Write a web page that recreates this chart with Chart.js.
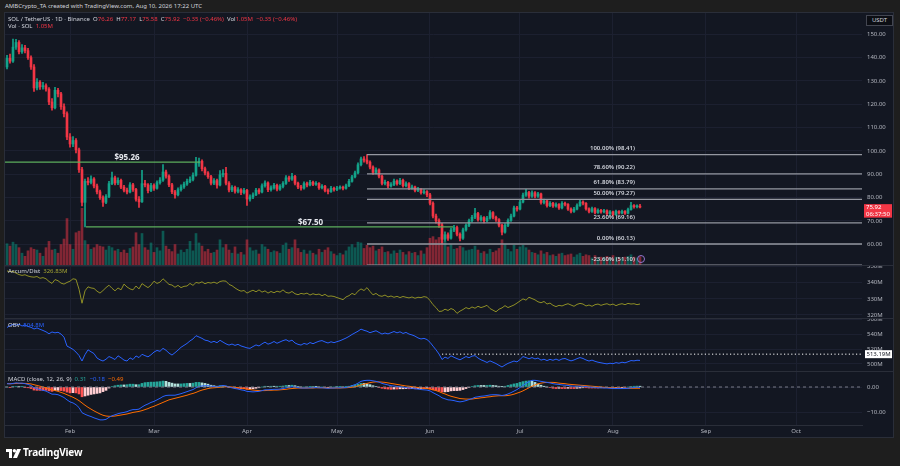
<!DOCTYPE html>
<html>
<head>
<meta charset="utf-8">
<title>SOL / TetherUS 1D</title>
<script src="https://cdn.jsdelivr.net/npm/chart.js@4.4.1/dist/chart.umd.min.js"></script>
<style>
  html, body { margin: 0; padding: 0; }
  body { width: 900px; height: 466px; background: #1e1e1e; position: relative; overflow: hidden; font-family: 'Noto Sans', sans-serif; color: #d1d4dc; }
  #panel { position: absolute; left: 4px; top: 12px; width: 890px; height: 426px; background: #131722; border: 1px solid #2a2e39; box-sizing: border-box; }
  canvas { position: absolute; left: 5px; }
  .sep { position: absolute; left: 5px; width: 888px; height: 1px; background: #2a2e39; }
  .txt { position: absolute; white-space: nowrap; font-size: 6px; line-height: 8px; }
  .dn { color: #f23645; }
  #usdt { position: absolute; left: 866px; top: 15px; width: 27px; height: 11px; box-sizing: border-box; border: 1px solid #434651; background: #0c0e14; font-size: 6px; line-height: 9px; text-align: center; color: #d1d4dc; }
  #alert { position: absolute; left: 637px; top: 255px; width: 8px; height: 8px; box-sizing: border-box; border: 1px solid #9575cd; border-radius: 50%; }
  #logo { position: absolute; left: 6px; top: 449px; }
  #brand { position: absolute; left: 23px; top: 445px; font-size: 10px; font-weight: 700; color: #ffffff; letter-spacing: -0.2px; }
</style>
</head>
<body>
<div id="panel"></div>
<canvas id="cMain" width="888" height="252" style="top:13px"></canvas>
<div class="sep" style="top:265px"></div>
<canvas id="cAd" width="888" height="52" style="top:266px"></canvas>
<div class="sep" style="top:318px"></div>
<canvas id="cObv" width="888" height="52" style="top:319px"></canvas>
<div class="sep" style="top:371px"></div>
<canvas id="cMacd" width="888" height="65" style="top:372px"></canvas>

<div class="txt" style="left:5px;top:2px">AMBCrypto_TA created with TradingView.com, Aug 10, 2026 17:22 UTC</div>
<div class="txt" style="left:8px;top:15px">SOL / TetherUS · 1D · Binance&nbsp; O<span class="dn">76.26</span>&nbsp; H<span class="dn">77.17</span>&nbsp; L<span class="dn">75.58</span>&nbsp; C<span class="dn">75.92</span>&nbsp; <span class="dn">−0.35 (−0.46%)</span>&nbsp; Vol<span class="dn">1.05M</span>&nbsp; <span class="dn">−0.35 (−0.46%)</span></div>
<div class="txt" style="left:8px;top:22px">Vol · SOL&nbsp; <span class="dn">1.05M</span></div>
<div class="txt" style="left:8px;top:267px">Accum/Dist&nbsp; <span style="color:#a3a332">326.83M</span></div>
<div class="txt" style="left:8px;top:321px">OBV&nbsp; <span style="color:#2962ff">504.8M</span></div>
<div class="txt" style="left:8px;top:375px">MACD (close, 12, 26, 9)&nbsp; <span style="color:#26a69a">0.31</span>&nbsp; <span style="color:#2962ff">−0.18</span>&nbsp; <span style="color:#ff6d00">−0.49</span></div>
<div id="usdt">USDT</div>
<div id="alert"></div>
<svg id="logo" width="15" height="9" viewBox="0 0 15 9"><path d="M0 0h6v9H3V3H0z" fill="#fff"/><circle cx="8.4" cy="1.7" r="1.7" fill="#fff"/><path d="M11 0h4l-4 9H7z" fill="#fff"/></svg>
<div id="brand">TradingView</div>

<script>
// daily candles, Jan 11 2026 (index 0) .. Aug 10 2026 (index 211)
const firstOpen = 136;
const closes = [
  139.7, 138.5, 144.5, 146.5, 142.5, 144.2, 143, 140, 136, 127,
  129.5, 127.5, 128, 126.5, 121, 118.5, 126, 124.5, 119, 116,
  106, 103, 104.5, 100.5, 92, 78, 87, 86.5, 88, 85,
  82.5, 80, 78, 80.5, 86, 88.5, 86.3, 87.4, 84.5, 83.2,
  82.4, 85.5, 83.5, 79.3, 78.2, 86, 85.5, 83, 85.2, 84,
  86.4, 87.5, 91, 89.2, 85.5, 82.5, 81.2, 83.4, 84.6, 85.8,
  87, 87.8, 89.6, 94.8, 95.6, 92.4, 90.6, 89, 86.2, 87.3,
  85.4, 89.8, 90.4, 86.2, 83.3, 84.4, 82.7, 83.4, 82.2, 83.1,
  79.4, 80.3, 81.2, 83.2, 82.4, 85.1, 86.3, 83.4, 84.2, 85.3,
  83.6, 84.8, 86.1, 88.5, 87.9, 89.1, 86.2, 84.6, 84.1, 86,
  85.4, 86.6, 85.7, 86.1, 84.2, 84.9, 83.1, 82.6, 84, 83.5,
  84.1, 84.4, 84, 85.1, 87, 88.9, 90.6, 94.1, 96.6, 96.1,
  95.2, 93.1, 90.8, 91.9, 89.2, 86.1, 86.6, 85, 85.6, 87.1,
  86, 87.4, 85.1, 86, 84.1, 84.6, 83.1, 83.6, 82.1, 82.6,
  81.2, 77.6, 72.1, 70.2, 68.3, 62.2, 64.1, 62.6, 66.1, 67.2,
  64.3, 62.6, 66.2, 68.1, 70.1, 71.6, 73.2, 70.6, 71.5, 70.1,
  71.2, 73.6, 71.6, 70.6, 68.2, 65.2, 68.1, 70.2, 72.1, 75.6,
  75.1, 78.1, 81.1, 82.2, 80.6, 82.1, 80.6, 81.6, 77.9, 78.6,
  76.6, 77.6, 76.4, 77.1, 75.6, 77.6, 77.1, 75.1, 74.1, 75.1,
  76.6, 78.1, 77.6, 75.2, 74.1, 75.3, 73.6, 74.6, 73.9, 74.4,
  73.1, 73.9, 72.7, 74.1, 73.4, 74.1, 73.3, 74.9, 76.6, 76.1,
  76.26, 75.92
];
const highs = [
  141, 141.5, 148, 147.8, 147.3, 145.6, 145.3, 144, 140.8, 137,
  131, 130.2, 129.4, 128.8, 127.2, 122.4, 127.3, 126.8, 125.1, 120.2,
  116.8, 107.4, 106.2, 105.3, 101.2, 93, 88, 88.6, 89.3, 88.6,
  85.8, 83.2, 80.8, 81.3, 87, 91, 89.2, 88.5, 87.9, 85.3,
  84.1, 86.4, 86.1, 84, 80.4, 91.7, 87.4, 86, 86.1, 85.9,
  87.2, 88.6, 94.2, 91.8, 89.8, 86.1, 83.1, 84.2, 85.5, 86.7,
  87.9, 88.9, 90.6, 97.3, 97, 96.2, 93.1, 91.2, 89.6, 88.2,
  87.9, 91.6, 92, 93, 86.9, 85.2, 85, 84.3, 83.9, 84,
  83.6, 81.2, 82.1, 84, 83.9, 85.9, 87.2, 86.8, 85.1, 86.1,
  85.8, 85.6, 86.9, 89.4, 89.2, 90.4, 89.6, 86.7, 85.3, 86.8,
  86.7, 87.4, 87.1, 86.9, 86.5, 85.6, 85.3, 83.8, 84.8, 84.5,
  84.8, 85.1, 85, 85.8, 87.8, 89.6, 91.4, 94.9, 97.4, 97.6,
  98.41, 95.8, 93.6, 92.8, 92.3, 89.7, 87.5, 87, 86.4, 87.9,
  87.6, 88.3, 87.9, 86.8, 86.4, 85.4, 85, 84.4, 84, 83.4,
  83, 81.8, 78.2, 73, 70.9, 69, 65.3, 64.9, 66.9, 68.1,
  67.8, 64.9, 66.9, 68.8, 70.8, 72.4, 75.4, 73.7, 72.3, 71.9,
  72, 74.4, 74, 72.1, 71, 68.7, 68.9, 70.9, 72.9, 76.4,
  76.3, 78.9, 81.9, 83.6, 82.7, 82.9, 82.6, 82.3, 82, 79.4,
  79, 78.3, 78, 77.8, 77.5, 78.3, 78.1, 77.5, 75.6, 75.8,
  77.3, 78.8, 78.6, 77.9, 75.6, 75.9, 75.7, 75.2, 75, 75,
  74.8, 74.5, 74.2, 74.7, 74.5, 74.7, 74.4, 75.5, 78, 77,
  76.9, 77.17
];
const lows = [
  135.2, 137.6, 138, 143.5, 141.6, 141.8, 142, 139.2, 135, 125.5,
  126.2, 126.4, 126.5, 125.6, 119.8, 117.5, 118, 123.2, 117.8, 114.6,
  104.8, 101.6, 101.8, 99.2, 90.8, 76.5, 67.5, 85.4, 85.9, 84.2,
  81.6, 79.2, 76.2, 77.4, 80, 85.6, 85.4, 85.6, 83.8, 82.4,
  81.6, 82, 82.7, 78.5, 75.8, 77.9, 84.6, 82, 82.6, 83.1,
  83.6, 85.8, 87, 88.3, 84.7, 81.7, 79.8, 80.7, 82.8, 84,
  85.2, 86.4, 87.2, 89.2, 93.4, 91.5, 89.7, 88.2, 85.4, 85.6,
  84.1, 85, 88.9, 85.5, 82.5, 82.6, 81.9, 82, 81.3, 81.6,
  76.7, 78.5, 79.6, 80.8, 81.6, 82, 84.5, 82.6, 82.8, 83.6,
  82.9, 83.1, 84.2, 85.7, 87, 87.4, 85.5, 83.8, 83.2, 83.6,
  84.6, 85, 85.1, 85.2, 83.5, 83.7, 82.4, 81.6, 82.2, 82.8,
  83, 83.6, 83.3, 83.6, 84.7, 86.6, 88.4, 90.2, 93.6, 95.2,
  94.4, 92.3, 90, 90.2, 88.5, 85.4, 85.5, 84.2, 84.5, 85.1,
  85.3, 85.6, 84.5, 84.6, 83.4, 83.6, 82.4, 82.6, 81.5, 81.6,
  80.4, 76.9, 71.3, 69.1, 67.2, 60.13, 61.3, 61.7, 62.2, 65.4,
  63.6, 61.5, 62.1, 65.6, 67.6, 69.5, 71, 69.9, 69.9, 69.2,
  69.6, 70.8, 70.9, 69.8, 67.5, 64, 64.8, 67.6, 69.8, 71.7,
  74.2, 74.7, 77.7, 80.5, 79.8, 80.1, 79.9, 80.1, 77.2, 77.3,
  75.9, 76.1, 75.8, 75.9, 74.9, 75.2, 76.5, 74.5, 73.5, 73.7,
  74.7, 76.2, 76.9, 74.6, 73.4, 73.7, 73, 73.2, 73.3, 73.5,
  72.5, 72.7, 72.1, 72.4, 72.9, 73, 72.8, 73, 74.6, 75.5,
  75.6, 75.58
];
// volume, millions of SOL
const volumes = [
  2.7, 2.4, 2.9, 2.6, 2.2, 1.5, 1.1, 1.8, 2.2, 2.0,
  1.9, 1.5, 1.1, 2.2, 3.0, 1.9, 2.0, 1.5, 2.6, 3.3,
  5.9, 2.6, 2.0, 4.1, 4.3, 7.2, 3.1, 2.6, 2.0, 2.2,
  2.6, 2.4, 2.3, 1.9, 2.4, 2.2, 1.8, 2.0, 1.6, 1.9,
  1.5, 2.1, 2.3, 4.1, 2.6, 4.0, 2.2, 1.9, 2.8, 1.6,
  2.2, 1.8, 4.3, 2.4, 2.0, 1.7, 2.6, 1.4, 1.9, 1.6,
  2.0, 3.0, 1.8, 4.0, 2.8, 2.4, 1.7, 2.0, 1.5, 1.6,
  1.9, 3.2, 2.2, 2.6, 1.9, 1.5, 2.3, 1.4, 1.6, 1.3,
  3.2, 2.2, 1.8, 1.9, 1.4, 2.6, 2.3, 2.0, 1.6, 1.8,
  1.7, 1.5, 2.5, 2.8, 2.0, 2.2, 3.2, 2.1, 1.6, 1.9,
  1.4, 1.8, 1.5, 1.3, 2.0, 1.6, 1.9, 2.2, 1.7, 1.4,
  1.2, 1.5, 1.3, 1.8, 2.3, 2.6, 2.2, 2.9, 2.8, 2.1,
  2.5, 2.2, 2.4, 1.8, 2.0, 2.3, 1.6, 1.7, 1.4, 1.8,
  1.5, 1.9, 1.6, 1.3, 1.7, 1.5, 1.6, 1.2, 1.8, 1.4,
  2.2, 3.4, 3.6, 3.2, 3.5, 3.9, 3.0, 2.3, 2.6, 2.0,
  2.1, 2.4, 2.2, 1.8, 1.9, 2.0, 2.4, 1.9, 1.5, 1.7,
  1.4, 2.0, 1.6, 1.8, 2.1, 3.2, 2.6, 2.0, 1.7, 2.5,
  2.0, 2.3, 2.5, 2.2, 1.9, 1.6, 1.5, 1.3, 1.8, 1.4,
  1.6, 1.2, 1.3, 1.1, 1.4, 1.5, 1.2, 1.3, 1.4, 1.0,
  1.3, 1.5, 1.1, 1.3, 1.2, 0.9, 1.2, 0.8, 1.0, 0.9,
  1.1, 0.8, 1.2, 1.0, 0.9, 0.8, 1.0, 1.1, 1.3, 1.0,
  0.9, 1.05
];
// Accumulation/Distribution, millions
const accDist = [
  347.4, 346.8, 347.2, 346.0, 345.1, 344.6, 345.0, 344.2, 343.7, 343.5,
  343.9, 342.8, 343.2, 342.5, 340.8, 339.6, 342.0, 341.3, 339.8, 339.2,
  340.2, 341.0, 342.5, 342.1, 336.0, 327.3, 335.0, 337.5, 336.8, 336.5,
  334.8, 333.6, 335.2, 337.0, 338.5, 336.6, 335.0, 336.8, 335.6, 339.2,
  337.4, 336.2, 335.6, 338.0, 336.2, 339.5, 338.2, 337.0, 338.6, 341.0,
  339.6, 340.4, 342.5, 340.8, 339.0, 338.6, 337.2, 338.4, 337.0, 337.8,
  338.0, 339.6, 338.4, 340.2, 339.8, 340.6, 339.4, 340.2, 339.8, 340.4,
  339.6, 340.8, 341.2, 341.0, 339.0, 338.2, 336.8, 335.6, 334.8, 335.2,
  333.6, 334.6, 335.4, 334.4, 335.6, 334.2, 335.0, 333.6, 334.6, 333.8,
  334.8, 334.2, 335.6, 334.0, 333.6, 334.6, 333.2, 332.6, 333.4, 333.0,
  333.6, 332.4, 333.2, 332.6, 333.0, 332.0, 332.8, 331.6, 331.8, 331.5,
  330.8, 330.2, 329.5, 331.2, 332.0, 333.4, 332.6, 334.8, 336.2, 335.2,
  337.0, 334.6, 332.5, 333.4, 332.0, 331.6, 332.4, 331.2, 331.8, 331.0,
  331.6, 330.8, 331.5, 331.0, 330.6, 331.2, 330.4, 331.0, 330.8, 331.4,
  331.0, 329.0, 326.4, 324.6, 322.2, 322.4, 323.6, 322.8, 324.0, 323.2,
  321.0, 322.4, 323.4, 324.6, 323.8, 325.0, 324.2, 325.4, 324.6, 325.2,
  326.0, 324.0, 323.0, 322.0, 323.6, 324.4, 325.8, 324.6, 325.4, 326.2,
  327.4, 328.7, 330.0, 329.2, 331.0, 330.2, 329.4, 328.2, 327.6, 328.4,
  326.8, 327.4, 326.0, 325.2, 326.0, 325.6, 326.4, 327.0, 326.2, 325.4,
  326.6, 327.2, 326.8, 325.6, 326.2, 325.4, 326.4, 326.8, 326.0, 326.6,
  327.0, 326.2, 326.8, 325.8, 326.6, 327.0, 326.4, 327.2, 326.8, 327.0,
  326.4, 326.83
];
// On Balance Volume, millions
const obv = [
  549.0, 551.5, 553.2, 552.0, 553.4, 551.0, 552.2, 550.4, 549.2, 547.0,
  548.4, 546.6, 545.0, 543.2, 540.6, 543.0, 541.8, 542.6, 540.2, 536.0,
  524.0, 522.0, 519.6, 516.0, 511.4, 504.0, 512.6, 519.0, 516.4, 514.0,
  508.0, 505.6, 504.0, 506.4, 510.0, 508.2, 506.0, 511.0, 508.4, 505.2,
  504.0, 508.2, 506.0, 510.8, 508.6, 513.0, 511.2, 509.6, 512.4, 516.0,
  518.2, 517.0, 521.0, 518.4, 514.6, 512.0, 515.2, 518.6, 522.4, 525.0,
  527.6, 531.0, 533.6, 538.0, 536.2, 534.4, 532.0, 531.2, 529.0, 530.4,
  528.6, 531.8, 529.4, 527.0, 525.4, 526.8, 525.0, 526.4, 524.2, 523.0,
  521.6, 521.0, 523.4, 525.6, 524.2, 527.0, 529.4, 526.6, 528.0, 530.2,
  527.8, 529.6, 531.4, 532.6, 530.4, 532.0, 528.2, 526.4, 525.4, 527.6,
  526.4, 528.8, 527.2, 529.0, 530.6, 531.4, 529.6, 528.2, 529.8, 528.6,
  530.0, 531.2, 533.0, 534.8, 537.0, 539.6, 541.8, 544.0, 546.8, 545.2,
  544.0, 542.0, 543.4, 544.6, 542.4, 540.2, 541.6, 540.4, 542.0, 543.6,
  541.8, 543.2, 541.0, 542.4, 540.2, 539.0, 537.4, 535.0, 533.6, 534.4,
  532.8, 529.2, 524.0, 519.0, 513.4, 506.0, 509.2, 507.4, 511.0, 509.0,
  507.2, 505.6, 507.8, 510.0, 508.4, 510.6, 511.2, 508.0, 505.6, 504.0,
  502.0, 504.2, 502.4, 500.6, 498.2, 496.0, 498.6, 500.8, 502.4, 504.0,
  502.8, 506.0, 510.0, 508.6, 507.0, 508.6, 506.8, 508.0, 505.2, 506.4,
  504.6, 506.2, 505.0, 506.6, 504.8, 506.8, 507.4, 505.6, 504.2, 505.4,
  507.2, 508.6, 507.4, 505.4, 504.0, 505.2, 503.6, 502.4, 501.6, 500.8,
  500.2, 501.0, 500.4, 501.8, 501.0, 502.4, 501.6, 503.0, 504.6, 504.2,
  505.0, 504.8
];
// MACD (12, 26, 9)
const macdLine = [
  1.3, 1.2, 1.4, 1.6, 1.5, 1.5, 1.3, 1.0, 0.6, -0.3,
  -0.7, -1.0, -1.3, -1.6, -2.2, -2.8, -2.8, -3.0, -3.5, -4.1,
  -5.0, -5.8, -6.2, -6.9, -8.0, -10.0, -10.6, -11.1, -11.5, -12.0,
  -12.4, -12.8, -12.8, -12.6, -11.8, -11.2, -10.8, -10.4, -10.1, -9.9,
  -9.6, -9.1, -8.8, -8.8, -8.6, -7.8, -7.1, -6.6, -6.0, -5.6,
  -5.0, -4.4, -3.7, -3.3, -3.2, -3.2, -3.2, -2.9, -2.6, -2.2,
  -1.8, -1.4, -1.0, -0.3, 0.2, 0.4, 0.5, 0.5, 0.3, 0.2,
  0.1, 0.4, 0.6, 0.4, 0.0, -0.3, -0.6, -0.8, -1.1, -1.3,
  -1.7, -1.8, -1.9, -1.8, -1.7, -1.4, -1.1, -1.1, -1.0, -0.9,
  -0.9, -0.8, -0.6, -0.3, -0.1, 0.1, 0.0, -0.2, -0.4, -0.4,
  -0.4, -0.3, -0.3, -0.2, -0.3, -0.3, -0.4, -0.5, -0.4, -0.4,
  -0.3, -0.3, -0.3, -0.2, 0.1, 0.5, 0.9, 1.5, 2.2, 2.5,
  2.6, 2.6, 2.4, 2.2, 1.9, 1.4, 1.1, 0.8, 0.5, 0.4,
  0.2, 0.1, -0.1, -0.2, -0.4, -0.5, -0.7, -0.8, -1.0, -1.1,
  -1.2, -1.5, -2.2, -2.8, -3.4, -4.2, -4.6, -5.0, -5.1, -5.3,
  -5.6, -5.8, -5.6, -5.3, -4.9, -4.5, -4.0, -3.8, -3.6, -3.5,
  -3.3, -3.1, -3.0, -3.0, -3.1, -3.3, -3.1, -2.7, -2.2, -1.6,
  -1.0, -0.2, 0.6, 1.4, 2.1, 2.6, 2.6, 2.4, 2.2, 2.0,
  1.8, 1.6, 1.3, 1.1, 1.0, 0.8, 0.7, 0.6, 0.4, 0.3,
  0.3, 0.3, 0.3, 0.2, 0.0, -0.1, -0.2, -0.3, -0.3, -0.4,
  -0.4, -0.5, -0.6, -0.6, -0.6, -0.6, -0.6, -0.5, -0.3, -0.2,
  -0.15, -0.18
];
const signalLine = [
  1.3, 1.3, 1.3, 1.4, 1.4, 1.4, 1.4, 1.3, 1.2, 0.9,
  0.6, 0.3, 0.0, -0.3, -0.7, -1.1, -1.4, -1.7, -2.1, -2.5,
  -3.0, -3.5, -4.0, -4.6, -5.3, -6.2, -7.1, -7.9, -8.6, -9.3,
  -9.9, -10.5, -11.0, -11.3, -11.4, -11.4, -11.3, -11.1, -10.9, -10.7,
  -10.5, -10.2, -9.9, -9.7, -9.5, -9.2, -8.8, -8.4, -7.9, -7.5,
  -7.0, -6.5, -6.0, -5.5, -5.0, -4.7, -4.4, -4.1, -3.8, -3.5,
  -3.2, -2.8, -2.5, -2.1, -1.6, -1.2, -0.9, -0.6, -0.4, -0.3,
  -0.2, -0.1, 0.0, 0.1, 0.1, 0.0, -0.1, -0.3, -0.4, -0.6,
  -0.8, -1.0, -1.2, -1.3, -1.4, -1.4, -1.4, -1.3, -1.3, -1.2,
  -1.2, -1.1, -1.0, -0.9, -0.7, -0.6, -0.5, -0.4, -0.4, -0.4,
  -0.4, -0.4, -0.4, -0.3, -0.3, -0.3, -0.3, -0.4, -0.4, -0.4,
  -0.4, -0.4, -0.3, -0.3, -0.2, -0.1, 0.1, 0.4, 0.8, 1.1,
  1.4, 1.7, 1.9, 2.0, 2.0, 1.9, 1.8, 1.6, 1.4, 1.2,
  1.0, 0.8, 0.6, 0.4, 0.3, 0.1, 0.0, -0.2, -0.4, -0.5,
  -0.6, -0.8, -1.1, -1.4, -1.8, -2.3, -2.7, -3.2, -3.6, -3.9,
  -4.2, -4.5, -4.6, -4.7, -4.7, -4.7, -4.5, -4.4, -4.2, -4.1,
  -3.9, -3.8, -3.6, -3.5, -3.4, -3.4, -3.4, -3.3, -3.1, -2.8,
  -2.4, -2.0, -1.5, -0.9, -0.3, 0.3, 0.8, 1.2, 1.5, 1.7,
  1.8, 1.8, 1.8, 1.7, 1.5, 1.4, 1.3, 1.1, 1.0, 0.9,
  0.8, 0.7, 0.6, 0.5, 0.4, 0.3, 0.2, 0.1, 0.0, -0.1,
  -0.2, -0.3, -0.3, -0.4, -0.4, -0.5, -0.5, -0.5, -0.5, -0.5,
  -0.49, -0.49
];
const monthTicks = [21, 49, 80, 110, 141, 171, 202, 233, 263];
const monthLabels = ['Feb', 'Mar', 'Apr', 'May', 'Jun', 'Jul', 'Aug', 'Sep', 'Oct'];
const priceTicks = [60, 70, 80, 90, 100, 110, 120, 130, 140, 150];
const adTicks = [320, 330, 340, 350];
const obvTicks = [500, 520, 540, 560];
const macdTicks = [-10, 0];
const fibLevels = [98.41, 90.22, 83.79, 79.27, 69.16, 60.13, 51.10];
const fibNames = ['100.00%', '78.60%', '61.80%', '50.00%', '23.60%', '0.00%', '-23.60%'];
const supportLevels = [95.26, 67.50];
const obvMark = 513.19;

// drawing anchors (day index)
const FIB_FROM = 120, FIB_LABEL_AT = 209.3;
const SUPPORT_FROM = [-1, 26.3], SUPPORT_TO = [64.3, 148.7], SUPPORT_LABEL_AT = [40, 101.2];
const OBV_MARK_FROM = 145;

const FONT = "'Noto Sans', sans-serif";
const GRID = '#1c2030';
const TXT = '#b2b5be';
const UP = '#13a38a', DOWN = '#f23645';
const X_MIN = -2 / 3, X_MAX = X_MIN + 857 / 3;

Chart.defaults.font.family = FONT;
Chart.defaults.animation = false;

const opens = [firstOpen, ...closes.slice(0, -1)];
const isUp = closes.map((c, i) => c >= opens[i]);

// the label padding chart.js reserves around each scale would shrink the panes
function noPadding(s) {
  s.paddingTop = 0; s.paddingBottom = 0; s.paddingLeft = 0; s.paddingRight = 0;
}

function xScale(showLabels) {
  return {
    type: 'linear', min: X_MIN, max: X_MAX, offset: false,
    afterBuildTicks: s => { s.ticks = monthTicks.map(v => ({ value: v })); },
    afterFit: s => { s.height = showLabels ? 12 : 0; noPadding(s); },
    grid: { color: GRID, drawTicks: false, offset: false },
    border: { display: showLabels, color: '#2a2e39' },
    ticks: {
      display: showLabels, autoSkip: false, maxRotation: 0, padding: 3, color: TXT,
      font: { size: 6 },
      callback: v => { const k = monthTicks.indexOf(v); return k >= 0 ? monthLabels[k] : ''; }
    }
  };
}

function yScale(min, max, ticks, fmt) {
  return {
    position: 'right', min, max,
    afterBuildTicks: s => { s.ticks = ticks.map(v => ({ value: v })); },
    afterFit: s => { s.width = 31; noPadding(s); },
    grid: { color: GRID, drawTicks: false },
    border: { display: false },
    ticks: { padding: 5, color: TXT, font: { size: 6 }, callback: fmt }
  };
}

function hLine(level, from, to, color, width, dash) {
  return {
    type: 'line', data: [{ x: from, y: level }, { x: to, y: level }],
    borderColor: color, borderWidth: width, borderDash: dash || [],
    pointRadius: 0, fill: false, order: 0
  };
}

const baseOptions = {
  responsive: false, maintainAspectRatio: false,
  layout: { padding: 0, autoPadding: false },
  plugins: { legend: { display: false }, tooltip: { enabled: false } }
};

// ---- price pane ----
const mainText = {
  id: 'mainText',
  afterDraw(chart) {
    const { ctx, scales: { x, y }, chartArea } = chart;
    ctx.save();
    ctx.font = '600 6px ' + FONT;
    ctx.fillStyle = '#d1d4dc';
    ctx.textAlign = 'right';
    ctx.textBaseline = 'middle';
    fibLevels.forEach((lv, k) => {
      ctx.fillText(fibNames[k] + ' (' + lv.toFixed(2) + ')', x.getPixelForValue(FIB_LABEL_AT), y.getPixelForValue(lv) - 6);
    });
    ctx.font = 'bold 8px ' + FONT;
    ctx.fillStyle = '#e6e8ee';
    ctx.textAlign = 'center';
    supportLevels.forEach((lv, k) => {
      ctx.fillText('$' + lv.toFixed(2), x.getPixelForValue(SUPPORT_LABEL_AT[k]), y.getPixelForValue(lv) - 4);
    });
    // last price tag
    const last = closes[closes.length - 1];
    const py = y.getPixelForValue(last);
    const left = chartArea.right + 2;
    ctx.fillStyle = DOWN;
    ctx.fillRect(left, py - 3, chart.width - left - 1, 13.5);
    ctx.fillStyle = '#ffffff';
    ctx.font = '6px ' + FONT;
    ctx.textAlign = 'left';
    ctx.fillText(last.toFixed(2), left + 2, py + 0.5);
    ctx.fillText('06:37:50', left + 2, py + 6.8);
    ctx.restore();
  }
};

new Chart(document.getElementById('cMain'), {
  type: 'bar',
  data: {
    datasets: [
      ...fibLevels.map(lv => hLine(lv, FIB_FROM, X_MAX, '#9598a1', 1.3)),
      ...supportLevels.map((lv, k) => hLine(lv, SUPPORT_FROM[k], SUPPORT_TO[k], '#5cae5c', 1.3)),
      {
        type: 'bar', data: closes.map((c, i) => ({ x: i, y: [opens[i], c] })),
        backgroundColor: isUp.map(u => u ? UP : DOWN),
        barThickness: 2, minBarLength: 1, grouped: false, order: 1
      },
      {
        type: 'bar', data: closes.map((c, i) => ({ x: i, y: [lows[i], highs[i]] })),
        backgroundColor: isUp.map(u => u ? UP : DOWN),
        barThickness: 1, grouped: false, order: 2
      },
      {
        type: 'bar', yAxisID: 'yVol', data: volumes.map((v, i) => ({ x: i, y: v })),
        backgroundColor: isUp.map(u => u ? 'rgba(8,153,129,0.5)' : 'rgba(242,54,69,0.5)'),
        barThickness: 2, grouped: false, order: 3
      }
    ]
  },
  options: {
    ...baseOptions,
    scales: {
      x: xScale(false),
      y: yScale(51.13, 159.13, priceTicks, v => v.toFixed(2)),
      yVol: { display: false, min: 0, max: 32 }
    }
  },
  plugins: [mainText]
});

// ---- accumulation / distribution ----
new Chart(document.getElementById('cAd'), {
  type: 'line',
  data: {
    datasets: [{
      data: accDist.map((v, i) => ({ x: i, y: v })),
      borderColor: '#8f8f26', borderWidth: 1, pointRadius: 0, fill: false
    }]
  },
  options: {
    ...baseOptions,
    scales: { x: xScale(false), y: yScale(318.13, 350.43, adTicks, v => v + 'M') }
  }
});

// ---- on balance volume ----
const obvTag = {
  id: 'obvTag',
  afterDraw(chart) {
    const { ctx, scales: { y }, chartArea } = chart;
    const py = y.getPixelForValue(obvMark);
    const left = chartArea.right + 3;
    ctx.save();
    ctx.fillStyle = '#ffffff';
    ctx.fillRect(left, py - 4, chart.width - left - 1, 8);
    ctx.fillStyle = '#131722';
    ctx.font = '6px ' + FONT;
    ctx.textBaseline = 'middle';
    ctx.fillText(obvMark.toFixed(2) + 'M', left + 1.5, py + 0.5);
    ctx.restore();
  }
};

new Chart(document.getElementById('cObv'), {
  type: 'line',
  data: {
    datasets: [
      hLine(obvMark, OBV_MARK_FROM, X_MAX, '#ffffff', 1, [1.2, 2.4]),
      {
        data: obv.map((v, i) => ({ x: i, y: v })),
        borderColor: '#2962ff', borderWidth: 1, pointRadius: 0, fill: false, order: 1
      }
    ]
  },
  options: {
    ...baseOptions,
    scales: { x: xScale(false), y: yScale(490.6, 560.4, obvTicks, v => v + 'M') }
  },
  plugins: [obvTag]
});

// ---- MACD ----
const hist = macdLine.map((m, i) => m - signalLine[i]);
const histColors = hist.map((h, i) => {
  const prev = i > 0 ? hist[i - 1] : h;
  if (h >= 0) return h >= prev ? '#26a69a' : '#b2dfdb';
  return h <= prev ? '#ff5252' : '#ffcdd2';
});

new Chart(document.getElementById('cMacd'), {
  type: 'bar',
  data: {
    datasets: [
      hLine(0, X_MIN, X_MAX, '#787b86', 1, [3, 3]),
      {
        type: 'line', data: signalLine.map((v, i) => ({ x: i, y: v })),
        borderColor: '#ff6d00', borderWidth: 1, pointRadius: 0, fill: false, order: 1
      },
      {
        type: 'line', data: macdLine.map((v, i) => ({ x: i, y: v })),
        borderColor: '#2962ff', borderWidth: 1, pointRadius: 0, fill: false, order: 0
      },
      {
        type: 'bar', data: hist.map((h, i) => ({ x: i, y: h })),
        backgroundColor: histColors, barThickness: 2, grouped: false, order: 2
      }
    ]
  },
  options: {
    ...baseOptions,
    scales: {
      x: xScale(true),
      y: yScale(-14.79, 5.84, macdTicks, v => v.toFixed(2).replace('-', '−'))
    }
  }
});
</script>
</body>
</html>
